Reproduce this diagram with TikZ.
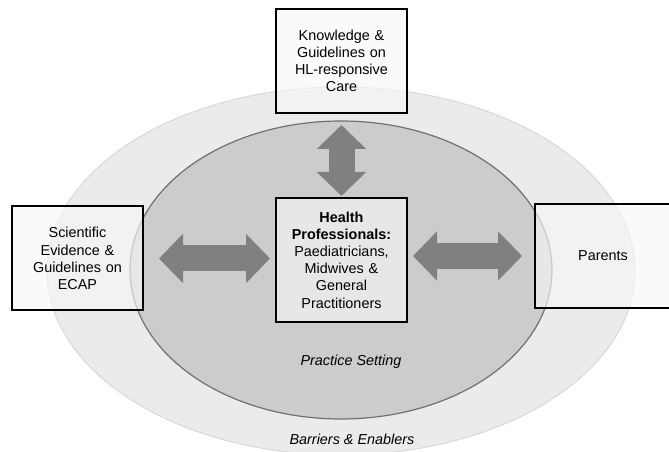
\documentclass[tikz,border=0pt]{standalone}
\usepackage{fontspec}
\setmainfont{Liberation Sans}
\usetikzlibrary{arrows.meta}

\definecolor{outerfill}{HTML}{EBEBEB}
\definecolor{outerline}{HTML}{D8D8D8}
\definecolor{innerfill}{HTML}{CCCCCC}
\definecolor{innerline}{HTML}{707070}
\definecolor{arrowgray}{HTML}{808080}

\begin{document}
\begin{tikzpicture}[x=0.75pt,y=-0.75pt,
        box/.style={draw=black,line width=1.5pt,fill=gray!6,fill opacity=0.65,text opacity=1,
          align=center,text width=90pt,inner sep=0pt,minimum width=98.25pt,minimum height=78pt,
          font=\fontsize{10.8}{12.9}\selectfont},
        biarrow/.style={draw=arrowgray,line width=19.5pt,
          {Triangle[length=18pt,width=36pt]}-{Triangle[length=18pt,width=36pt]}},
        ringtext/.style={font=\fontsize{10.8}{12.9}\selectfont\itshape}]

  \clip (0,0) rectangle (669,452);

  % rings
  \draw[draw=outerline,fill=outerfill,line width=0.75pt] (341,271) ellipse [x radius=294, y radius=184];
  \draw[draw=innerline,fill=innerfill,line width=0.9pt] (341,270) ellipse [x radius=211, y radius=149];

  \node[ringtext] (setting) at (351,362) {Practice Setting};
  \node[ringtext] (barriers) at (352,439) {Barriers \& Enablers};

  % boxes
  \node[box] (know) at (341.5,61) {Knowledge \&\\ Guidelines on\\ HL-responsive\\ Care};
  \node[box,minimum height=93pt] (hp) at (341.5,260)
    {\textbf{Health}\\ \textbf{Professionals:}\\ Paediatricians,\\ Midwives \&\\ General\\ Practitioners};
  \node[box] (sci) at (77.5,258.5) {Scientific\\ Evidence \&\\ Guidelines on\\ ECAP};
  \node[box,minimum width=102pt] (par) at (603,256) {Parents};

  % arrows
  \draw[biarrow,shorten <=8.25pt,shorten >=0.75pt] (know.south) -- (hp.north);
  \draw[biarrow,shorten <=11.25pt,shorten >=3.75pt] (sci.east) -- (sci.east -| hp.west);
  \draw[biarrow,shorten <=3.75pt,shorten >=9pt] (par.west -| hp.east) -- (par.west);

\end{tikzpicture}
\end{document}
